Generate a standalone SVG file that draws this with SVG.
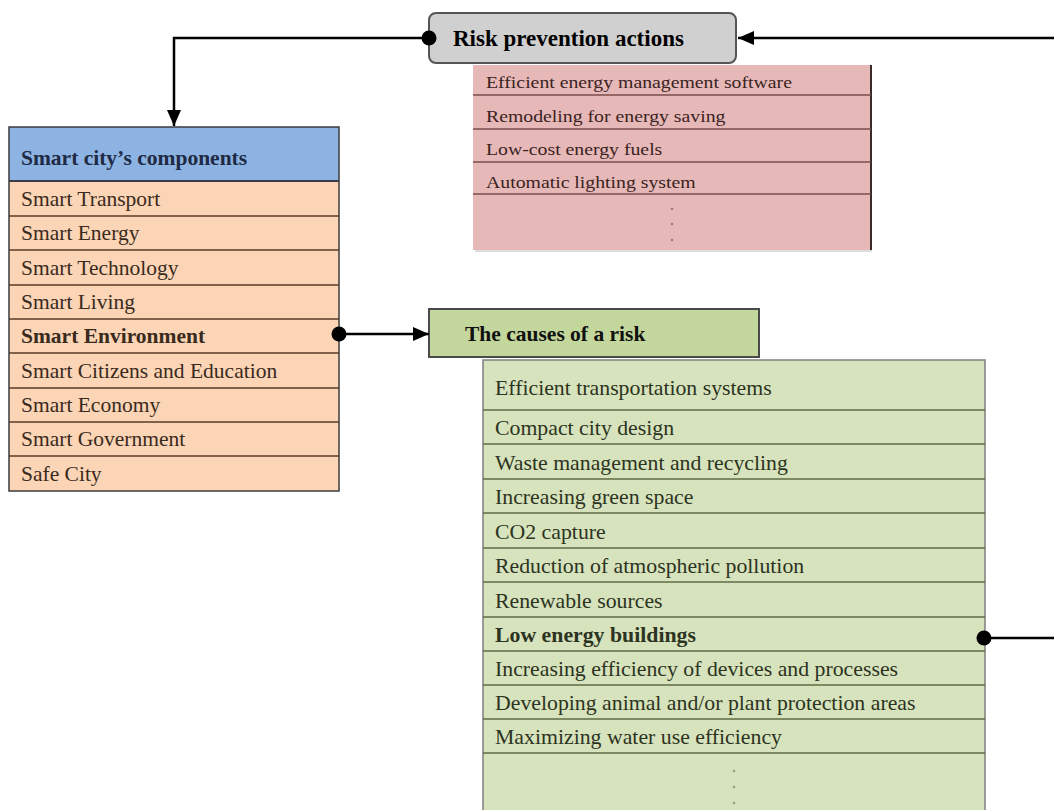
<svg xmlns="http://www.w3.org/2000/svg" width="1054" height="810" viewBox="0 0 1054 810">
<defs>
<marker id="arr" markerUnits="userSpaceOnUse" markerWidth="16" markerHeight="14" refX="16" refY="7" orient="auto">
<path d="M0,0 L16,7 L0,14 z" fill="#000"/>
</marker>
<marker id="dot" markerUnits="userSpaceOnUse" markerWidth="16" markerHeight="16" refX="8" refY="8" orient="auto">
<circle cx="8" cy="8" r="7.5" fill="#000"/>
</marker>
<style>
.t{font-family:"Liberation Serif","Times New Roman",serif;}
.b{font-weight:bold;}
.conn{fill:none;stroke:#000;stroke-width:2.5;}
.pk{fill:#3a2222;font-size:17.5px;}
.pc{fill:#3a2a1e;font-size:21.5px;}
.gr{fill:#2c3322;font-size:20px;}
.pline{stroke:#7a4c4c;stroke-width:1.5;}
.cline{stroke:#5a3a28;stroke-width:1.5;}
.gline{stroke:#5f6b45;stroke-width:1.5;}
</style>
</defs>
<rect width="1054" height="810" fill="#fff"/>

<g id="risk-prevention">
<rect x="429" y="13" width="307" height="50" rx="7" fill="#d0d0d0" stroke="#555" stroke-width="2"/>
<text class="t b" x="453" y="46" font-size="23" fill="#000">Risk prevention actions</text>
</g>

<g id="prevention-list">
<rect x="475" y="67" width="397" height="185" fill="#c8c8c8" opacity="0.6"/>
<rect x="473" y="65" width="398" height="185" fill="#e6b9b8"/>
<line x1="871" y1="65" x2="871" y2="250" stroke="#3a2a2a" stroke-width="2"/>
<line class="pline" x1="473" y1="95" x2="871" y2="95"/>
<line class="pline" x1="473" y1="129" x2="871" y2="129"/>
<line class="pline" x1="473" y1="162" x2="871" y2="162"/>
<line class="pline" x1="473" y1="194" x2="871" y2="194"/>
<g transform="translate(486,0) scale(1.13,1)">
<text class="t pk" x="0" y="88">Efficient energy management software</text>
<text class="t pk" x="0" y="122">Remodeling for energy saving</text>
<text class="t pk" x="0" y="155">Low-cost energy fuels</text>
<text class="t pk" x="0" y="188">Automatic lighting system</text>
</g>
<circle cx="672" cy="209" r="1.3" fill="#9a7a7a"/>
<circle cx="672" cy="224" r="1.3" fill="#9a7a7a"/>
<circle cx="672" cy="240" r="1.3" fill="#9a7a7a"/>
</g>

<g id="components">
<rect x="9" y="127" width="330" height="54" fill="#8db3e2"/>
<rect x="9" y="181" width="330" height="310" fill="#fbd5b5"/>
<line x1="9" y1="181" x2="339" y2="181" stroke="#3b3b4a" stroke-width="2"/>
<line class="cline" x1="9" y1="216" x2="339" y2="216"/>
<line class="cline" x1="9" y1="250" x2="339" y2="250"/>
<line class="cline" x1="9" y1="285" x2="339" y2="285"/>
<line class="cline" x1="9" y1="319" x2="339" y2="319"/>
<line class="cline" x1="9" y1="353" x2="339" y2="353"/>
<line class="cline" x1="9" y1="388" x2="339" y2="388"/>
<line class="cline" x1="9" y1="422" x2="339" y2="422"/>
<line class="cline" x1="9" y1="456" x2="339" y2="456"/>
<rect x="9" y="127" width="330" height="364" fill="none" stroke="#3b3b3b" stroke-width="1.5"/>
<text class="t b" x="21" y="165" font-size="21.5" fill="#1f2a44">Smart city’s components</text>
<text class="t pc" x="21" y="206">Smart Transport</text>
<text class="t pc" x="21" y="240">Smart Energy</text>
<text class="t pc" x="21" y="275">Smart Technology</text>
<text class="t pc" x="21" y="309">Smart Living</text>
<text class="t pc b" x="21" y="343">Smart Environment</text>
<text class="t pc" x="21" y="378">Smart Citizens and Education</text>
<text class="t pc" x="21" y="412">Smart Economy</text>
<text class="t pc" x="21" y="446">Smart Government</text>
<text class="t pc" x="21" y="481">Safe City</text>
</g>

<g id="causes">
<rect x="429" y="309" width="330" height="48" fill="#c3d69b" stroke="#4a4a4a" stroke-width="2"/>
<text class="t b" x="465" y="341" font-size="21.5" fill="#111">The causes of a risk</text>
</g>

<g id="causes-list">
<rect x="483" y="360" width="502" height="452" fill="#d7e3bc" stroke="#7f7f7f" stroke-width="1.5"/>
<line class="gline" x1="483" y1="410" x2="985" y2="410"/>
<line class="gline" x1="483" y1="444" x2="985" y2="444"/>
<line class="gline" x1="483" y1="479" x2="985" y2="479"/>
<line class="gline" x1="483" y1="513" x2="985" y2="513"/>
<line class="gline" x1="483" y1="548" x2="985" y2="548"/>
<line class="gline" x1="483" y1="582" x2="985" y2="582"/>
<line class="gline" x1="483" y1="617" x2="985" y2="617"/>
<line class="gline" x1="483" y1="651" x2="985" y2="651"/>
<line class="gline" x1="483" y1="685" x2="985" y2="685"/>
<line class="gline" x1="483" y1="719" x2="985" y2="719"/>
<line class="gline" x1="483" y1="753" x2="985" y2="753"/>
<g transform="translate(495,0) scale(1.09,1)">
<text class="t gr" x="0" y="395">Efficient transportation systems</text>
<text class="t gr" x="0" y="435">Compact city design</text>
<text class="t gr" x="0" y="470">Waste management and recycling</text>
<text class="t gr" x="0" y="504">Increasing green space</text>
<text class="t gr" x="0" y="539">CO2 capture</text>
<text class="t gr" x="0" y="573">Reduction of atmospheric pollution</text>
<text class="t gr" x="0" y="608">Renewable sources</text>
<text class="t gr b" x="0" y="642">Low energy buildings</text>
<text class="t gr" x="0" y="676">Increasing efficiency of devices and processes</text>
<text class="t gr" x="0" y="710">Developing animal and/or plant protection areas</text>
<text class="t gr" x="0" y="744">Maximizing water use efficiency</text>
</g>
<circle cx="734" cy="771" r="1.3" fill="#9aa08a"/>
<circle cx="734" cy="787" r="1.3" fill="#9aa08a"/>
<circle cx="734" cy="803" r="1.3" fill="#9aa08a"/>
</g>

<g id="connectors">
<path class="conn" d="M429,38 H174 V126" marker-start="url(#dot)" marker-end="url(#arr)"/>
<path class="conn" d="M1054,38 H738" marker-end="url(#arr)"/>
<path class="conn" d="M339,334 H429" marker-start="url(#dot)" marker-end="url(#arr)"/>
<path class="conn" d="M984,638 H1054" marker-start="url(#dot)"/>
</g>
</svg>
